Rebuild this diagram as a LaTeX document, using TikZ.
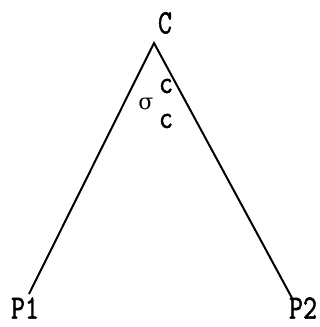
\documentclass[tikz,border=0pt]{standalone}
\usepackage{fontspec}
\newfontfamily\tw[FakeBold=1.5]{Latin Modern Mono}
\newfontfamily\gk{DejaVu Serif}
\begin{document}
\begin{tikzpicture}[x=1pt,y=-1pt,
  lbl/.style={inner sep=0pt,xscale=0.8,font=\fontsize{34}{34}\selectfont\tw},
  sml/.style={inner sep=0pt,xscale=0.85,font=\fontsize{32}{32}\selectfont\tw},
  edge/.style={line width=2pt}]
\useasboundingbox (0,0) rectangle (320,327);
\coordinate (apex) at (154,43);
\coordinate (p1) at (29,294);
\coordinate (p2) at (292,298);
\node[lbl] (C) at (165,23) {C};
\node[lbl] (P1) at (25,308) {P1};
\node[lbl] (P2) at (303,308) {P2};
\node[inner sep=0pt,font=\fontsize{22}{22}\selectfont\gk] (sig) at (146,104) {σ};
\node[sml] (sup) at (166,86) {c};
\node[sml] (sub) at (166,121) {c};
\draw[edge] (p1) -- (apex) -- (p2);
\end{tikzpicture}
\end{document}
